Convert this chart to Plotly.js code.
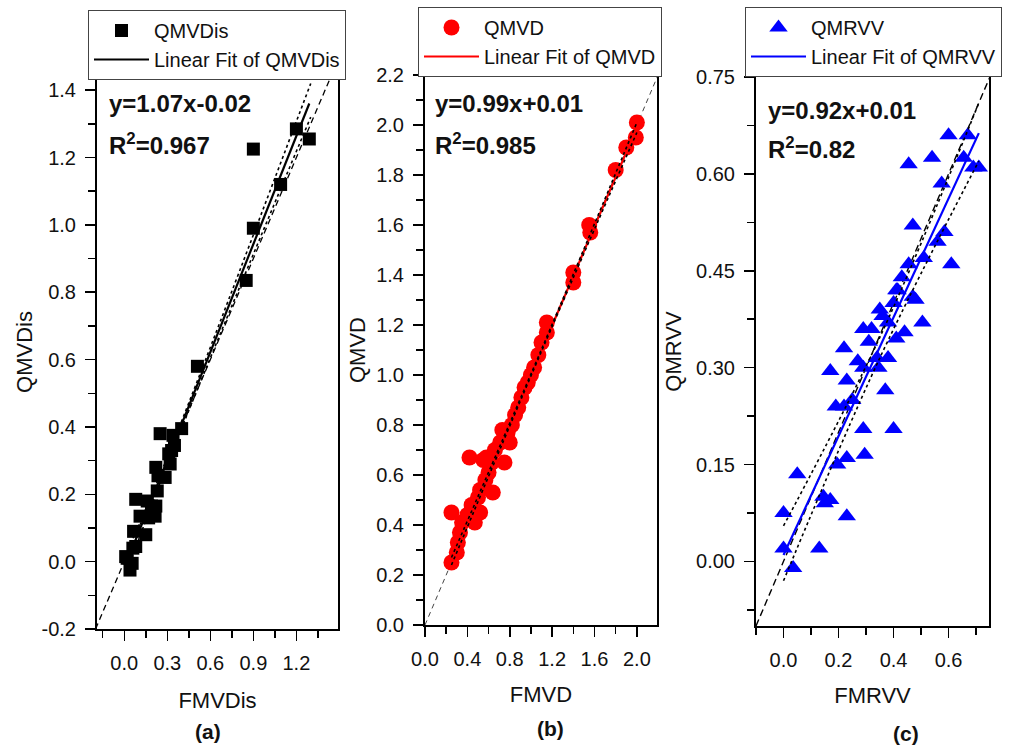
<!DOCTYPE html>
<html>
<head>
<meta charset="utf-8">
<script src="https://cdn.plot.ly/plotly-3.0.1.min.js"></script>
<style>html,body{margin:0;padding:0;background:#fff}#chart{width:1012px;height:748px}</style>
</head>
<body>
<div id="chart"></div>
<script>
// ---------- Panel (a): QMVDis vs FMVDis ----------
const aName = 'QMVDis';
const aX = [1.29, 1.20, 0.90, 1.09, 0.90, 0.85, 0.51, 0.40, 0.25, 0.34, 0.35, 0.33, 0.31, 0.32, 0.22, 0.285, 0.235, 0.23, 0.08, 0.16, 0.19, 0.22, 0.11, 0.17, 0.215, 0.065, 0.15, 0.08, 0.06, 0.02, 0.01, 0.055, 0.04];
const aY = [1.255, 1.285, 1.225, 1.12, 0.99, 0.835, 0.58, 0.395, 0.38, 0.375, 0.345, 0.33, 0.32, 0.29, 0.28, 0.25, 0.255, 0.21, 0.185, 0.18, 0.165, 0.165, 0.135, 0.13, 0.135, 0.09, 0.08, 0.045, 0.04, 0.01, 0.015, -0.005, -0.025];
const aSlope = 1.07, aIntercept = -0.02;
const aBandX = [0.01, 0.30, 1.30];
const aBandUp = [0.02, 0.31, 1.42];
const aBandLo = [-0.04, 0.29, 1.32];
const aDiag = [-0.2, 1.45];
const aYTickVals = [-0.2, 0.0, 0.2, 0.4, 0.6, 0.8, 1.0, 1.2, 1.4];
const aYTickText = ['-0.2', '0.0', '0.2', '0.4', '0.6', '0.8', '1.0', '1.2', '1.4'];
const aEq = 'y=1.07x-0.02';
const aR2 = 'R<sup>2</sup>=0.967';

// ---------- Panel (b): QMVD vs FMVD ----------
const bName = 'QMVD';
const bX = [2.00, 1.99, 1.90, 1.80, 1.55, 1.56, 1.40, 1.40, 1.15, 1.15, 1.10, 1.07, 1.03, 1.00, 0.97, 0.94, 0.91, 0.88, 0.85, 0.82, 0.73, 0.78, 0.80, 0.71, 0.66, 0.42, 0.58, 0.55, 0.75, 0.63, 0.60, 0.57, 0.52, 0.64, 0.50, 0.44, 0.52, 0.25, 0.40, 0.47, 0.35, 0.33, 0.31, 0.30, 0.25];
const bY = [2.01, 1.95, 1.91, 1.82, 1.60, 1.57, 1.41, 1.37, 1.21, 1.17, 1.13, 1.08, 1.03, 1.00, 0.97, 0.95, 0.91, 0.87, 0.84, 0.80, 0.78, 0.77, 0.73, 0.73, 0.70, 0.67, 0.67, 0.66, 0.65, 0.65, 0.61, 0.58, 0.54, 0.53, 0.51, 0.48, 0.45, 0.45, 0.44, 0.41, 0.41, 0.37, 0.33, 0.29, 0.25];
const bSlope = 0.99, bIntercept = 0.01;
const bBandX = [0.25, 1.10, 2.00];
const bBandUp = [0.27, 1.103, 2.01];
const bBandLo = [0.24, 1.095, 1.97];
const bDiag = [0, 2.2];
const bEq = 'y=0.99x+0.01';
const bR2 = 'R<sup>2</sup>=0.985';

// ---------- Panel (c): QMRVV vs FMRVV ----------
const cName = 'QMRVV';
const cX = [0.60, 0.67, 0.54, 0.455, 0.655, 0.69, 0.71, 0.575, 0.47, 0.585, 0.56, 0.61, 0.51, 0.455, 0.43, 0.415, 0.47, 0.40, 0.35, 0.29, 0.505, 0.48, 0.41, 0.36, 0.32, 0.38, 0.44, 0.41, 0.31, 0.22, 0.38, 0.34, 0.27, 0.29, 0.345, 0.17, 0.23, 0.37, 0.19, 0.22, 0.25, 0.29, 0.40, 0.295, 0.23, 0.195, 0.05, 0.145, 0.17, 0.15, 0.23, 0.0, 0.0, 0.13, 0.035];
const cY = [0.66, 0.66, 0.625, 0.615, 0.625, 0.61, 0.61, 0.585, 0.52, 0.51, 0.495, 0.46, 0.47, 0.46, 0.44, 0.42, 0.41, 0.40, 0.39, 0.36, 0.37, 0.405, 0.42, 0.38, 0.36, 0.37, 0.355, 0.345, 0.34, 0.33, 0.315, 0.315, 0.31, 0.30, 0.30, 0.295, 0.28, 0.265, 0.24, 0.24, 0.25, 0.205, 0.205, 0.165, 0.16, 0.15, 0.135, 0.10, 0.095, 0.09, 0.07, 0.075, 0.02, 0.02, -0.01];
const cSlope = 0.92, cIntercept = 0.01;
const cBandX = [0.0, 0.35, 0.71];
const cBandUp = [0.055, 0.347, 0.71];
const cBandLo = [-0.03, 0.315, 0.62];
const cDiag = [-0.1, 0.75];
const cEq = 'y=0.92x+0.01';
const cR2 = 'R<sup>2</sup>=0.82';

const xTitles = ['FMVDis', 'FMVD', 'FMRVV'];
const yTitles = ['QMVDis', 'QMVD', 'QMRVV'];
const panelLabels = ['(a)', '(b)', '(c)'];

// ---------- build ----------
const FONT = '"Liberation Sans", Arial, sans-serif';
function fitLine(xs, m, b) {
  const x0 = Math.min(...xs), x1 = Math.max(...xs);
  return {x: [x0, x1], y: [m * x0 + b, m * x1 + b]};
}
function panel(idx, name, xs, ys, m, b, bx, bu, bl, diag, color, symbol, msize, diagStyle) {
  const ax = idx === 1 ? 'x' : 'x' + idx;
  const ay = idx === 1 ? 'y' : 'y' + idx;
  const lg = idx === 1 ? 'legend' : 'legend' + idx;
  const f = fitLine(xs, m, b);
  return [
    {x: diag, y: diag, xaxis: ax, yaxis: ay, mode: 'lines', showlegend: false, hoverinfo: 'skip',
     line: diagStyle},
    {x: xs, y: ys, xaxis: ax, yaxis: ay, mode: 'markers', name: name, legend: lg,
     marker: {color: color, symbol: symbol, size: msize, line: {width: 0}}},
    {x: f.x, y: f.y, xaxis: ax, yaxis: ay, mode: 'lines', name: 'Linear Fit of ' + name, legend: lg,
     line: {color: color, width: 2.2}},
    {x: bx, y: bu, xaxis: ax, yaxis: ay, mode: 'lines', showlegend: false, hoverinfo: 'skip',
     line: {color: 'black', width: 1.6, dash: 'dot', shape: 'spline'}},
    {x: bx, y: bl, xaxis: ax, yaxis: ay, mode: 'lines', showlegend: false, hoverinfo: 'skip',
     line: {color: 'black', width: 1.6, dash: 'dot', shape: 'spline'}}
  ];
}
const data = [].concat(
  panel(1, aName, aX, aY, aSlope, aIntercept, aBandX, aBandUp, aBandLo, aDiag, '#000000', 'square', 13,
        {color: 'black', width: 1.3, dash: '6px,4px'}),
  panel(2, bName, bX, bY, bSlope, bIntercept, bBandX, bBandUp, bBandLo, bDiag, '#ff0000', 'circle', 16,
        {color: '#444', width: 1, dash: '5px,4px'}),
  panel(3, cName, cX, cY, cSlope, cIntercept, cBandX, cBandUp, cBandLo, cDiag, '#0000ff', 'triangle-up', 16,
        {color: 'black', width: 1.4, dash: '7px,4px'})
);

const W = 1012, H = 748;
function px(v) { return v / W; }
function py(v) { return 1 - v / H; }
function minorTicks(d) {
  return {ticks: 'outside', ticklen: 7, tickwidth: 1.5, tickcolor: 'black', dtick: d, tick0: 0, showgrid: false};
}
function axisBase(extra) {
  return Object.assign({
    showline: true, mirror: true, linecolor: 'black', linewidth: 2,
    ticks: 'outside', ticklen: 10, tickwidth: 1.5, tickcolor: 'black',
    ticklabelstandoff: 5,
    showgrid: false, zeroline: false,
    tickfont: {family: FONT, size: 20, color: '#111'}
  }, extra);
}
const titleFont = {family: FONT, size: 22, color: '#111'};
const eqFont = {family: FONT, size: 24, color: '#111', weight: 'bold'};
const lblFont = {family: FONT, size: 21, color: '#111', weight: 'bold'};
const legFont = {family: FONT, size: 20, color: '#111'};
function legendAt(x, y) {
  return {x: px(x), y: py(y), xanchor: 'left', yanchor: 'top', bgcolor: 'white', bordercolor: '#444', borderwidth: 1,
    font: legFont, itemwidth: 55, tracegroupgap: 0};
}
function note(x, y, text, font, anchor) {
  return {xref: 'paper', yref: 'paper', x: px(x), y: py(y), xanchor: anchor || 'left', yanchor: 'middle',
    showarrow: false, text: text, font: font};
}
const layout = {
  width: W, height: H,
  margin: {l: 0, r: 0, t: 0, b: 0},
  paper_bgcolor: 'white', plot_bgcolor: 'white',
  showlegend: true,
  xaxis: axisBase({domain: [px(97), px(338)], range: [-0.19, 1.49], anchor: 'y', tick0: 0, dtick: 0.3, tickformat: '.1f',
    minor: minorTicks(0.15), title: {text: xTitles[0], font: titleFont, standoff: 20}}),
  yaxis: axisBase({domain: [py(629), py(75)], range: [-0.2, 1.445], anchor: 'x', tickmode: 'array',
    tickvals: aYTickVals, ticktext: aYTickText,
    minor: minorTicks(0.1), title: {text: yTitles[0], font: titleFont, standoff: 3}}),
  xaxis2: axisBase({domain: [px(425), px(657)], range: [0, 2.19], anchor: 'y2', tick0: 0, dtick: 0.4, tickformat: '.1f',
    minor: minorTicks(0.2), title: {text: xTitles[1], font: titleFont, standoff: 18}}),
  yaxis2: axisBase({domain: [py(625), py(75)], range: [0, 2.2001], anchor: 'x2', tick0: 0, dtick: 0.2, tickformat: '.1f',
    minor: minorTicks(0.1), title: {text: yTitles[1], font: titleFont, standoff: 4}}),
  xaxis3: axisBase({domain: [px(756), px(989)], range: [-0.1, 0.747], anchor: 'y3', tick0: 0, dtick: 0.2, tickformat: '.1f',
    minor: minorTicks(0.1), title: {text: xTitles[2], font: titleFont, standoff: 18}}),
  yaxis3: axisBase({domain: [py(626), py(77)], range: [-0.1, 0.7501], anchor: 'x3', tick0: 0, dtick: 0.15, tickformat: '.2f',
    minor: minorTicks(0.075), title: {text: yTitles[2], font: titleFont, standoff: 8}}),
  legend: legendAt(88, 10),
  legend2: legendAt(418, 7),
  legend3: legendAt(745, 7),
  annotations: [
    note(107, 103, aEq, eqFont), note(107, 144, aR2, eqFont),
    note(433, 103, bEq, eqFont), note(433, 144, bR2, eqFont),
    note(766, 110, cEq, eqFont), note(766, 148, cR2, eqFont),
    note(208, 731, panelLabels[0], lblFont, 'center'),
    note(550, 728, panelLabels[1], lblFont, 'center'),
    note(906, 733, panelLabels[2], lblFont, 'center')
  ]
};
Plotly.newPlot('chart', data, layout, {displayModeBar: false, staticPlot: true});
</script>
</body>
</html>
